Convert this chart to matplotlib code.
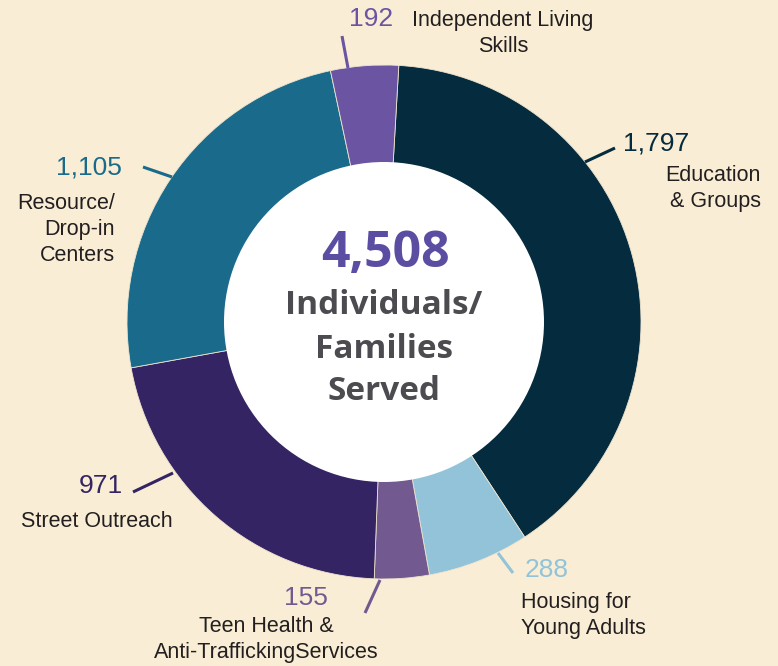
import matplotlib
matplotlib.use("Agg")
import matplotlib.pyplot as plt
from matplotlib.patches import Circle

categories = ["Education\n& Groups", "Housing for\nYoung Adults", "Teen Health &\nAnti-TraffickingServices",
              "Street Outreach", "Resource/\nDrop-in\nCenters", "Independent Living\nSkills"]
values = [1797, 288, 155, 971, 1105, 192]
value_labels = ["1,797", "288", "155", "971", "1,105", "192"]
colors = ["#052b3e", "#92c3d8", "#725a91", "#352463", "#1a6b8b", "#6b55a2"]
total_label = "4,508"
center_lines = ["Individuals/", "Families", "Served"]

BG = "#f9eed5"
W, H = 778, 666
fig = plt.figure(figsize=(W / 100, H / 100), dpi=100, facecolor=BG)
ax = fig.add_axes([0, 0, 1, 1])
ax.set_facecolor(BG)

cx, cy = 384, H - 322
R_out, R_in = 257, 160

ax.pie(values, colors=colors, startangle=86.7, counterclock=False,
       radius=R_out, center=(cx, cy),
       wedgeprops=dict(edgecolor="#efe4cf", linewidth=0.6))
ax.add_patch(Circle((cx, cy), R_in, facecolor="white", edgecolor="none", zorder=5))
ax.set_xlim(0, W)
ax.set_ylim(0, H)
ax.set_aspect("equal")
ax.axis("off")

def Y(y):
    return H - y

num_font = ["Liberation Sans Narrow", "Liberation Sans", "DejaVu Sans"]
lab_font = ["Liberation Sans", "DejaVu Sans"]
lab_color = "#231f20"
NUM_SIZE = 19
LAB_SIZE = 15.5

# leader lines: (x0, y0, x1, y1) in pixel coordinates
leaders = [
    (585, 162, 615, 148),
    (498, 553, 513, 573),
    (380, 580, 365, 613),
    (173, 473, 133, 492),
    (172, 177, 143, 167),
    (348, 68, 342, 36),
]
for (x0, y0, x1, y1), c in zip(leaders, colors):
    ax.plot([x0, x1], [Y(y0), Y(y1)], color=c, lw=2.2, solid_capstyle="butt", zorder=6)

# numbers: (x, y, ha)
num_pos = [
    (623, 144, "left"),
    (525, 570, "left"),
    (306, 598, "center"),
    (123, 486, "right"),
    (122, 167, "right"),
    (371, 19, "center"),
]
for (x, y, ha), t, c in zip(num_pos, value_labels, colors):
    ax.text(x, Y(y), t, color=c, fontsize=NUM_SIZE, family=num_font, ha=ha, va="center", zorder=7)

# category labels: (x, y_top, ha)
lab_pos = [
    (761, 165, "right"),
    (521, 592, "left"),
    (266, 616, "center"),
    (97, 511, "center"),
    (115, 193, "right"),
    (503, 10, "center"),
]
for (x, y, ha), t in zip(lab_pos, categories):
    ax.text(x, Y(y), t, color=lab_color, fontsize=LAB_SIZE, family=lab_font, ha=ha, va="top",
            multialignment=ha, linespacing=1.32, zorder=7)

# center text
ax.text(cx + 1, Y(254), total_label, color="#5b4ea2", fontsize=36, fontweight="bold",
        family=["Open Sans", "DejaVu Sans"], ha="center", va="center", zorder=8)
for txt, yy in zip(center_lines, [305, 350, 392]):
    ax.text(cx, Y(yy), txt, color="#4b4b50", fontsize=24, fontweight="bold",
            family=["Open Sans", "DejaVu Sans"], ha="center", va="center", zorder=8)

fig.savefig("out.png", dpi=100, facecolor=BG)
